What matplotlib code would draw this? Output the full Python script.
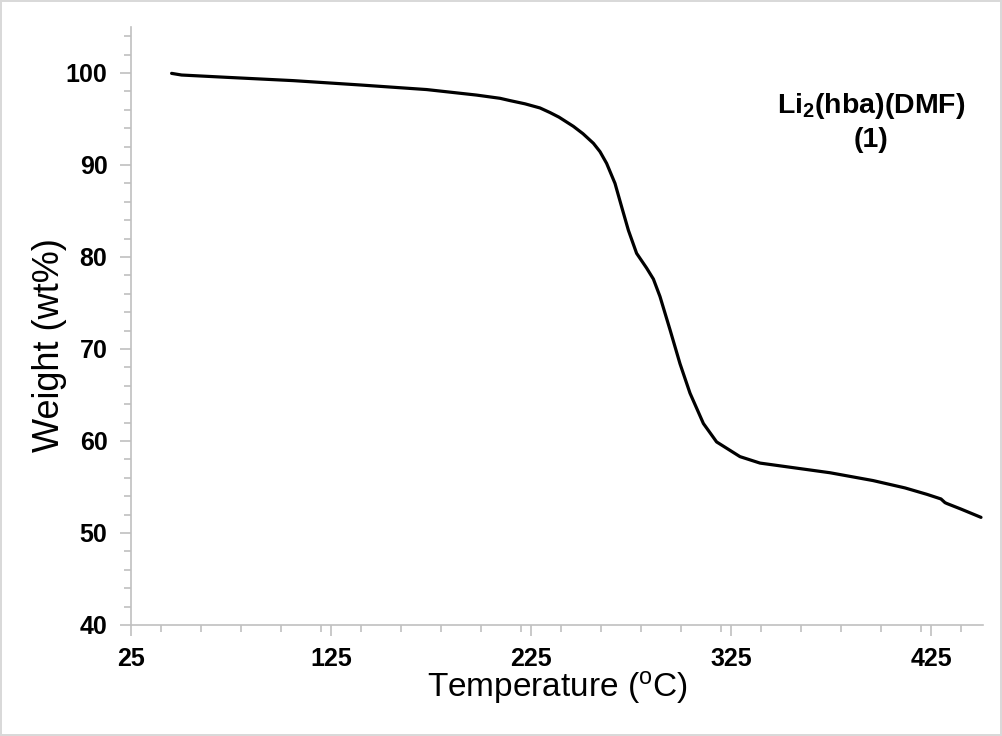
import matplotlib
matplotlib.use("Agg")
import matplotlib.pyplot as plt
from matplotlib.ticker import MultipleLocator, FixedLocator

plt.rcParams['font.family'] = ['Liberation Sans', 'DejaVu Sans']

temperature = [45.3, 50.3, 72.8, 106.2, 139.5, 172.8, 197.8, 209.5, 214.5, 222.0, 229.5,
               234.5, 239.0, 246.2, 251.0, 256.2, 259.5, 262.8, 267.0, 270.3, 273.7,
               277.8, 282.8, 286.2, 289.5, 294.5, 299.5, 304.5, 311.2, 317.8, 329.5,
               339.5, 359.5, 374.5, 396.0, 412.0, 423.0, 430.0, 432.0, 433.0, 440.0, 450.0]
weight = [99.96, 99.78, 99.53, 99.17, 98.7, 98.2, 97.6, 97.25, 97.0, 96.65, 96.2,
          95.7, 95.2, 94.2, 93.4, 92.36, 91.45, 90.18, 88.0, 85.47, 82.9,
          80.4, 78.8, 77.6, 75.7, 72.1, 68.4, 65.2, 61.9, 59.9, 58.3,
          57.6, 57.0, 56.55, 55.7, 54.9, 54.2, 53.7, 53.3, 53.2, 52.6, 51.7]

x_ticks = [25, 125, 225, 325, 425]
y_ticks = [40, 50, 60, 70, 80, 90, 100]

W, H = 1002, 736
fig = plt.figure(figsize=(W / 100, H / 100), dpi=100)
fig.patch.set_edgecolor('#d9d9d9')
fig.patch.set_linewidth(1.5)
ax = fig.add_axes([131 / W, 1 - 625 / H, (983 - 131) / W, (625 - 27) / H])

ax.plot(temperature, weight, color='black', linewidth=2.3,
        solid_capstyle='round', solid_joinstyle='round')

ax.set_xlim(25, 451)
ax.set_ylim(40, 105)
ax.xaxis.set_major_locator(FixedLocator(x_ticks))
ax.xaxis.set_minor_locator(MultipleLocator(20))
ax.yaxis.set_major_locator(FixedLocator(y_ticks))
ax.yaxis.set_minor_locator(MultipleLocator(2))

for s in ['top', 'right']:
    ax.spines[s].set_visible(False)
for s in ['left', 'bottom']:
    ax.spines[s].set_color('#c0c0c0')
    ax.spines[s].set_linewidth(1.2)

ax.tick_params(which='major', direction='out', length=8, width=1.2, color='#c0c0c0',
               labelsize=18)
ax.tick_params(which='minor', direction='out', length=5, width=1.2, color='#c0c0c0')
ax.tick_params(axis='x', which='major', pad=8)
ax.tick_params(axis='y', which='major', pad=9)
for lab in ax.get_xticklabels() + ax.get_yticklabels():
    lab.set_fontweight('bold')

fig.text(557 / W, 1 - 697 / H, 'Temperature ($\\mathregular{^{o}}$C)', fontsize=24,
         ha='center', va='baseline')
fig.text(59 / W, 1 - 345 / H, 'Weight (wt%)', fontsize=26, rotation=90,
         rotation_mode='anchor', ha='center', va='baseline')

fig.text(871 / W, 1 - 113 / H, 'Li$\\mathregular{_2}$(hba)(DMF)', fontsize=20.5,
         fontweight='bold', ha='center', va='baseline')
fig.text(871 / W, 1 - 147 / H, '(1)', fontsize=20.5, fontweight='bold',
         ha='center', va='baseline')

fig.savefig('out.png', dpi=100, edgecolor=fig.get_edgecolor())
